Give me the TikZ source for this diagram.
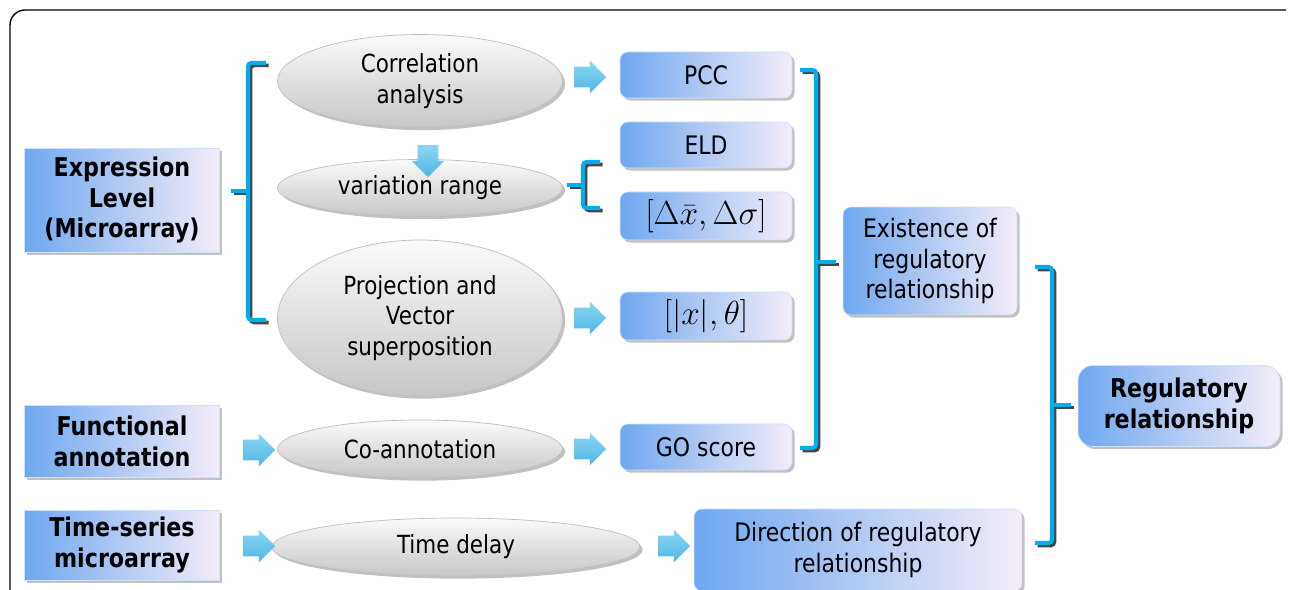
\RequirePackage{fix-cm}
\documentclass[tikz,border=0pt]{standalone}
\usepackage{fontspec}
\setmainfont{DejaVu Sans}[FakeStretch=0.86]
\usetikzlibrary{shapes.geometric,shapes.arrows,shadows}
\definecolor{bxL}{RGB}{110,168,240}
\definecolor{bxR}{RGB}{244,236,248}
\definecolor{arT}{RGB}{140,214,242}
\definecolor{arB}{RGB}{78,182,228}
\definecolor{brk}{RGB}{0,174,239}
\definecolor{elT}{RGB}{250,250,250}
\definecolor{elB}{RGB}{198,198,198}
\tikzset{
  shd/.style={drop shadow={shadow xshift=1.5pt,shadow yshift=-1.5pt,fill=gray!80,opacity=0.6}},
  sqbox/.style={rectangle, left color=bxL, right color=bxR, draw=bxL!35, line width=0.3pt, shd,
    font=\fontsize{14.7}{17.5}\selectfont\bfseries, align=center, inner sep=0pt},
  rbox/.style={sqbox, rounded corners=0.16cm, font=\fontsize{14.5}{17.2}\selectfont},
  oval/.style={ellipse, top color=elT, bottom color=elB, draw=gray!50, line width=0.4pt, shd,
    font=\fontsize{14.2}{17.5}\selectfont, align=center, inner sep=0pt},
  blk/.style={single arrow, top color=arT, bottom color=arB, draw=none, inner sep=0.2cm,
    single arrow head extend=0.12cm, minimum height=0.64cm},
  bsh/.style={draw=gray!55!black, line width=2pt, rounded corners=2pt, shift={(2.5,2.5)}},
  bln/.style={draw=brk, line width=2.3pt, rounded corners=2pt},
  mth/.style={font=\fontsize{19}{22}\selectfont}
}
\begin{document}
\begin{tikzpicture}[x=0.02cm,y=-0.02cm]
\useasboundingbox (0,0) rectangle (1290,590);
\fill[white] (0,0) rectangle (1290,590);
\draw[line width=0.8pt, rounded corners=0.3cm] (10,600) -- (10,10) -- (1286,10);

% left boxes
\node[sqbox, minimum width=3.9cm, minimum height=2.08cm] (expr) at (122,200) {Expression\\Level\\(Microarray)};
\node[sqbox, minimum width=3.9cm, minimum height=1.44cm] (func) at (122,441) {Functional\\annotation};
\node[sqbox, minimum width=3.9cm, minimum height=1.4cm] (time) at (122,545) {Time-series\\microarray};

% ellipses
\node[oval, minimum width=5.7cm, minimum height=1.86cm] (corr) at (420,81) {Correlation\\analysis};
\node[oval, minimum width=5.7cm, minimum height=1.14cm] (vari) at (420,188) {variation range};
\node[oval, minimum width=5.7cm, minimum height=3.12cm] (proj) at (420,318) {Projection and\\Vector\\superposition};
\node[oval, minimum width=5.7cm, minimum height=1.16cm] (coan) at (420,449) {Co-annotation};
\node[oval, minimum width=7.36cm, minimum height=1.16cm] (tdel) at (456,547) {Time delay};

% result boxes
\node[rbox, minimum width=3.44cm, minimum height=0.92cm] (pcc) at (706,75) {PCC};
\node[rbox, minimum width=3.44cm, minimum height=0.92cm] (eld) at (706,145) {ELD};
\node[rbox, minimum width=3.44cm, minimum height=0.96cm, mth] (dlt) at (706,216) {$[\Delta\bar{x},\Delta\sigma]$};
\node[rbox, minimum width=3.44cm, minimum height=0.96cm, mth] (xth) at (706,316) {$[|x|,\theta]$};
\node[rbox, minimum width=3.44cm, minimum height=0.92cm] (gos) at (706,447) {GO score};
\node[rbox, minimum width=3.48cm, minimum height=2.16cm] (exis) at (930,261) {Existence of\\regulatory\\relationship};
\node[rbox, minimum width=6.56cm, minimum height=1.64cm] (dirn) at (858,550) {Direction of regulatory\\relationship};
\node[rbox, rounded corners=0.3cm, minimum width=4.04cm, minimum height=1.62cm,
      font=\fontsize{14.7}{17.5}\selectfont\bfseries] (regr) at (1179,406) {Regulatory\\relationship};

% block arrows
\node[blk] (a1) at (585,77) {};
\node[blk, rotate=-90] (a2) at (428,156) {};
\node[blk] (a3) at (585,318) {};
\node[blk] (a4) at (254,450) {};
\node[blk] (a5) at (585,449) {};
\node[blk] (a6) at (254,546) {};
\node[blk] (a7) at (669,546) {};

% brackets
\foreach \s in {bsh,bln}{
  \draw[\s] (266,63) -| (248,320) -- (266,320);
  \draw[\s] (248,191) -- (231,191);
  \draw[\s] (600,162) -| (583,208) -- (600,208);
  \draw[\s] (583,185) -- (567,185);
  \draw[\s] (800,70) -| (816,448) -- (800,448);
  \draw[\s] (816,262) -- (836,262);
  \draw[\s] (1035,267) -| (1052,543) -- (1035,543);
  \draw[\s] (1052,405) -- (1071,405);
}
\end{tikzpicture}
\end{document}
